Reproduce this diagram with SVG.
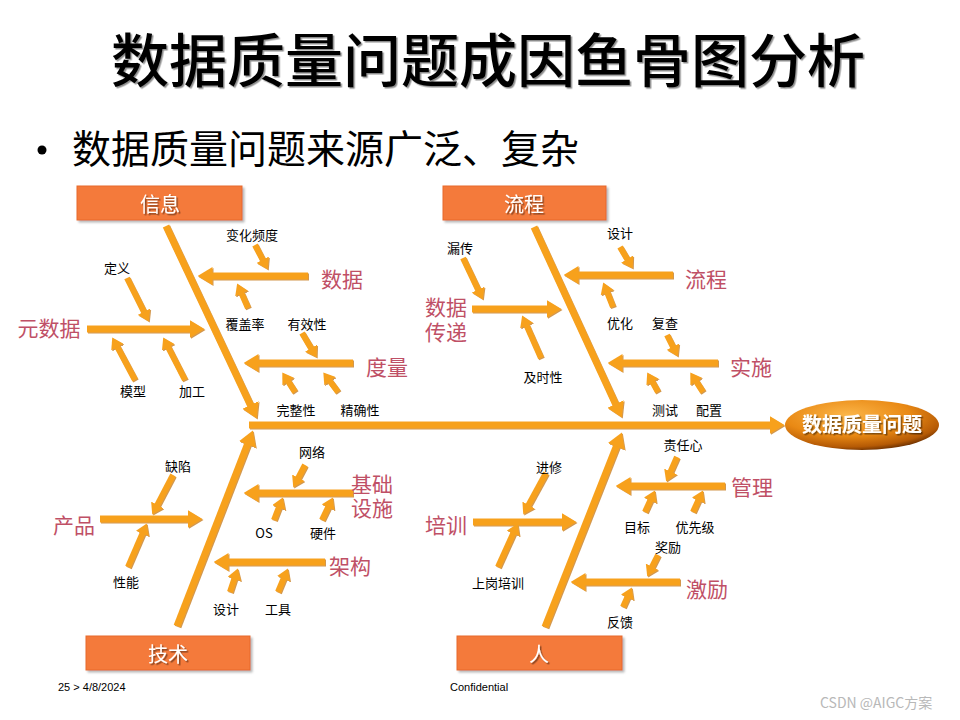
<svg xmlns="http://www.w3.org/2000/svg" width="960" height="720" viewBox="0 0 960 720">
<defs>
<style>
.t{font-family:"Noto Sans CJK SC","Liberation Sans",sans-serif;text-anchor:middle}
.sm{font-size:13px;fill:#000}
.cat{font-size:21px;fill:#BF5066}
.box{fill:#F47A3A;stroke:#E8692A;stroke-width:1}
.boxt{font-size:20px;fill:#fff}
.bone{stroke:#F7A11E;stroke-width:7;fill:none;marker-end:url(#ah)}
.sub{stroke:#F7A11E;stroke-width:7;fill:none;marker-end:url(#ah)}
.ss{stroke:#F7A11E;stroke-width:6;fill:none;marker-end:url(#as)}
</style>
<marker id="ah" markerUnits="userSpaceOnUse" viewBox="0 0 15 18" markerWidth="15" markerHeight="18" refX="0.5" refY="9" orient="auto">
<path d="M0,0 L15,9 L0,18 z" fill="#F7A11E"/>
</marker>
<marker id="as" markerUnits="userSpaceOnUse" viewBox="0 0 11 14" markerWidth="11" markerHeight="14" refX="0.5" refY="7" orient="auto">
<path d="M0,0 L11,7 L0,14 z" fill="#F7A11E"/>
</marker>
<radialGradient id="eg" cx="0.4" cy="0.3" r="0.75">
<stop offset="0" stop-color="#FBB548"/>
<stop offset="0.55" stop-color="#E98914"/>
<stop offset="0.85" stop-color="#B55A05"/>
<stop offset="1" stop-color="#5A2600"/>
</radialGradient>
<filter id="sh" x="-10%" y="-10%" width="130%" height="140%">
<feDropShadow dx="1.5" dy="1.5" stdDeviation="0.6" flood-color="#000" flood-opacity="0.45"/>
</filter>
<filter id="bs" x="-5%" y="-10%" width="115%" height="140%">
<feDropShadow dx="2" dy="2" stdDeviation="1" flood-color="#888" flood-opacity="0.6"/>
</filter>
<filter id="as3" x="-20%" y="-20%" width="140%" height="140%">
<feDropShadow dx="1" dy="1" stdDeviation="0.4" flood-color="#C06A00" flood-opacity="0.7"/>
</filter>
</defs>
<rect width="960" height="720" fill="#fff"/>

<g id="title">
<text class="t" x="488" y="82" font-size="58" font-weight="500" fill="#000" filter="url(#sh)">数据质量问题成因鱼骨图分析</text>
</g>
<g id="subtitle">
<circle cx="42" cy="150" r="4.5" fill="#000"/>
<text x="72" y="163" font-family="Noto Sans CJK SC,sans-serif" font-size="39" fill="#000">数据质量问题来源广泛、复杂</text>
</g>

<g id="connectors" filter="url(#as3)">
<line class="bone" x1="249" y1="425" x2="770" y2="425"/>
<line class="bone" x1="166" y1="226" x2="250.6" y2="405.4"/>
<line class="bone" x1="534" y1="227" x2="615.7" y2="404.4"/>
<line class="bone" x1="177" y1="626" x2="247.6" y2="444"/>
<line class="bone" x1="545" y1="627" x2="616.5" y2="446"/>

<line class="sub" x1="308" y1="276" x2="212" y2="276"/>
<line class="sub" x1="87" y1="329" x2="190" y2="329"/>
<line class="sub" x1="353" y1="363" x2="258" y2="363"/>
<line class="sub" x1="673" y1="275" x2="578" y2="275"/>
<line class="sub" x1="472" y1="309" x2="547" y2="309"/>
<line class="sub" x1="718" y1="363" x2="622" y2="363"/>
<line class="sub" x1="100" y1="519" x2="188" y2="519"/>
<line class="sub" x1="353" y1="493" x2="258" y2="493"/>
<line class="sub" x1="325" y1="562" x2="228" y2="562"/>
<line class="sub" x1="473" y1="522" x2="562" y2="522"/>
<line class="sub" x1="725" y1="486" x2="630" y2="486"/>
<line class="sub" x1="680" y1="582" x2="585" y2="582"/>

<line class="ss" x1="255" y1="245" x2="262.9" y2="260.2"/>
<line class="ss" x1="248" y1="308" x2="241.4" y2="293.1"/>
<line class="ss" x1="127" y1="278" x2="144.1" y2="312.2"/>
<line class="ss" x1="135" y1="380" x2="117.2" y2="346.7"/>
<line class="ss" x1="185" y1="380" x2="168" y2="346.8"/>
<line class="ss" x1="302" y1="333" x2="311.3" y2="348.6"/>
<line class="ss" x1="295" y1="392" x2="288" y2="381.2"/>
<line class="ss" x1="338" y1="392" x2="329.6" y2="380.8"/>
<line class="ss" x1="620" y1="247" x2="627.4" y2="259.5"/>
<line class="ss" x1="613" y1="307" x2="607.1" y2="292.2"/>
<line class="ss" x1="463" y1="258" x2="478.3" y2="290.1"/>
<line class="ss" x1="541" y1="358" x2="526.4" y2="325.1"/>
<line class="ss" x1="667" y1="335" x2="673.1" y2="347.2"/>
<line class="ss" x1="658" y1="392" x2="652.3" y2="381.6"/>
<line class="ss" x1="703" y1="392" x2="696" y2="381.2"/>
<line class="ss" x1="173" y1="475" x2="157.1" y2="505.3"/>
<line class="ss" x1="128" y1="567" x2="142.6" y2="533.1"/>
<line class="ss" x1="305" y1="465" x2="298.1" y2="478.2"/>
<line class="ss" x1="274" y1="520" x2="279" y2="507.2"/>
<line class="ss" x1="322" y1="520" x2="328.3" y2="506.9"/>
<line class="ss" x1="230" y1="592" x2="234.5" y2="578.4"/>
<line class="ss" x1="278" y1="592" x2="283.8" y2="578.2"/>
<line class="ss" x1="546" y1="473" x2="528.3" y2="505.4"/>
<line class="ss" x1="498" y1="567" x2="513.4" y2="533"/>
<line class="ss" x1="677" y1="457" x2="670.4" y2="471.9"/>
<line class="ss" x1="645" y1="512" x2="650.5" y2="500"/>
<line class="ss" x1="693" y1="512" x2="698.5" y2="500"/>
<line class="ss" x1="658" y1="555" x2="651.9" y2="567.2"/>
<line class="ss" x1="623" y1="607" x2="627.5" y2="597"/>
</g>

<g id="head">
<ellipse cx="862" cy="425" rx="77" ry="25" fill="url(#eg)"/>
<text class="t" x="862" y="432" font-size="20" font-weight="bold" fill="#fff" filter="url(#sh)">数据质量问题</text>
</g>

<g id="cat-xinxi">
<rect class="box" x="77" y="186" width="165" height="34" filter="url(#bs)"/>
<text class="t boxt" x="160" y="212" filter="url(#sh)">信息</text>
</g>
<g id="cat-liucheng">
<rect class="box" x="443" y="186" width="163" height="34" filter="url(#bs)"/>
<text class="t boxt" x="524" y="212" filter="url(#sh)">流程</text>
</g>
<g id="cat-jishu">
<rect class="box" x="86" y="636" width="164" height="34" filter="url(#bs)"/>
<text class="t boxt" x="168" y="662" filter="url(#sh)">技术</text>
</g>
<g id="cat-ren">
<rect class="box" x="457" y="636" width="165" height="34" filter="url(#bs)"/>
<text class="t boxt" x="539" y="662" filter="url(#sh)">人</text>
</g>

<g id="n-shuju"><text class="t cat" x="342" y="287">数据</text></g>
<g id="n-yuanshuju"><text class="t cat" x="49" y="336">元数据</text></g>
<g id="n-duliang"><text class="t cat" x="387" y="375">度量</text></g>
<g id="n-liucheng2"><text class="t cat" x="706" y="287">流程</text></g>
<g id="n-shujuchuandi"><text class="t cat" x="446" y="315">数据<tspan x="446" dy="25">传递</tspan></text></g>
<g id="n-shishi"><text class="t cat" x="751" y="375">实施</text></g>
<g id="n-chanpin"><text class="t cat" x="74" y="533">产品</text></g>
<g id="n-jichusheshi"><text class="t cat" x="372" y="492">基础<tspan x="372" dy="24">设施</tspan></text></g>
<g id="n-jiagou"><text class="t cat" x="350" y="574">架构</text></g>
<g id="n-peixun"><text class="t cat" x="446" y="533">培训</text></g>
<g id="n-guanli"><text class="t cat" x="752" y="495">管理</text></g>
<g id="n-jili"><text class="t cat" x="707" y="597">激励</text></g>

<g id="leaves">
<text class="t sm" x="252" y="240">变化频度</text>
<text class="t sm" x="245" y="329">覆盖率</text>
<text class="t sm" x="117" y="273">定义</text>
<text class="t sm" x="133" y="396">模型</text>
<text class="t sm" x="192" y="396">加工</text>
<text class="t sm" x="307" y="329">有效性</text>
<text class="t sm" x="296" y="415">完整性</text>
<text class="t sm" x="360" y="415">精确性</text>
<text class="t sm" x="620" y="238">设计</text>
<text class="t sm" x="620" y="328">优化</text>
<text class="t sm" x="460" y="253">漏传</text>
<text class="t sm" x="543" y="382">及时性</text>
<text class="t sm" x="665" y="328">复查</text>
<text class="t sm" x="665" y="415">测试</text>
<text class="t sm" x="709" y="415">配置</text>
<text class="t sm" x="178" y="471">缺陷</text>
<text class="t sm" x="126" y="587">性能</text>
<text class="t sm" x="312" y="457">网络</text>
<text class="t sm" x="264" y="538">OS</text>
<text class="t sm" x="323" y="538">硬件</text>
<text class="t sm" x="226" y="614">设计</text>
<text class="t sm" x="278" y="614">工具</text>
<text class="t sm" x="549" y="472">进修</text>
<text class="t sm" x="498" y="588">上岗培训</text>
<text class="t sm" x="683" y="450">责任心</text>
<text class="t sm" x="637" y="532">目标</text>
<text class="t sm" x="695" y="532">优先级</text>
<text class="t sm" x="668" y="552">奖励</text>
<text class="t sm" x="620" y="627">反馈</text>
</g>

<g id="footer" font-family="Liberation Sans,sans-serif" font-size="11" fill="#000">
<text x="58" y="691">25  &gt; 4/8/2024</text>
<text x="450" y="691">Confidential</text>
<text x="820" y="708" font-family="Noto Sans CJK SC,sans-serif" font-size="14" fill="#B8B8B8">CSDN @AIGC方案</text>
</g>
</svg>
